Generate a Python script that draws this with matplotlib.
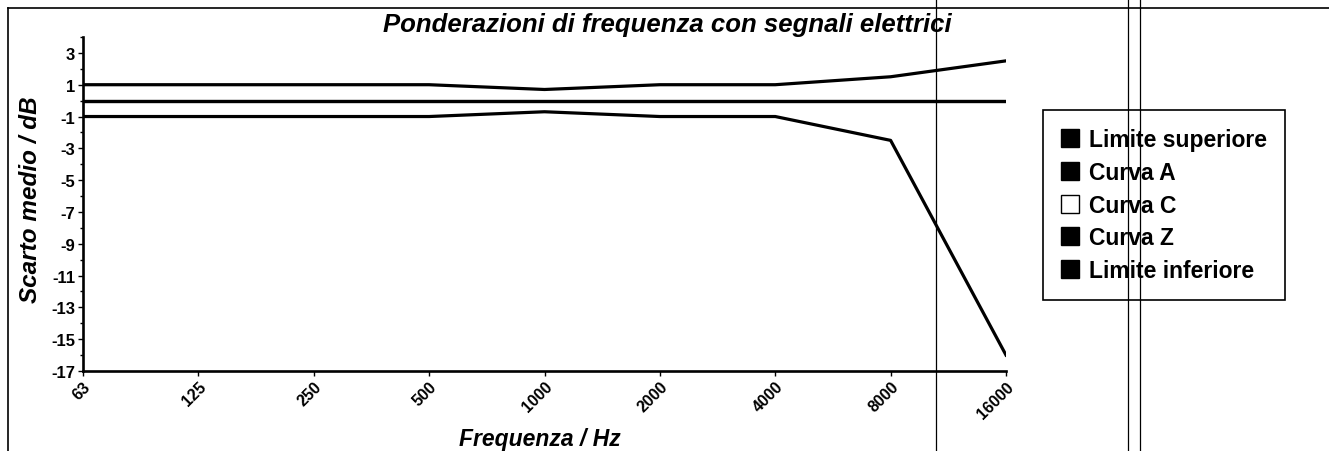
import matplotlib
matplotlib.use("Agg")
import matplotlib.pyplot as plt
from matplotlib.lines import Line2D
from matplotlib.ticker import MultipleLocator

plt.rcParams["font.family"] = ["Liberation Sans", "DejaVu Sans"]
plt.rcParams["axes.unicode_minus"] = False

# Octave-band centre frequencies (categorical x axis)
frequencies = ["63", "125", "250", "500", "1000", "2000", "4000", "8000", "16000"]

# Mean deviation in dB for each band
limite_superiore = [1.0, 1.0, 1.0, 1.0, 0.7, 1.0, 1.0, 1.5, 2.5]
curva_a = [0, 0, 0, 0, 0, 0, 0, 0, 0]
curva_c = [0, 0, 0, 0, 0, 0, 0, 0, 0]
curva_z = [0, 0, 0, 0, 0, 0, 0, 0, 0]
limite_inferiore = [-1.0, -1.0, -1.0, -1.0, -0.7, -1.0, -1.0, -2.5, -16.0]

series_names = ["Limite superiore", "Curva A", "Curva C", "Curva Z", "Limite inferiore"]
series_colors = ["black", "black", "white", "black", "black"]

W, H = 1329, 452
fig = plt.figure(figsize=(W / 100, H / 100), dpi=100)
ax = fig.add_axes([83 / W, 1 - 372 / H, (1006 - 83) / W, (372 - 38) / H])

x = list(range(len(frequencies)))
ax.plot(x, curva_c, color="white", lw=2.3, zorder=2)
ax.plot(x, curva_a, color="black", lw=2.3, zorder=3)
ax.plot(x, curva_z, color="black", lw=2.3, zorder=3)
ax.plot(x, limite_superiore, color="black", lw=2.3, zorder=3)
ax.plot(x, limite_inferiore, color="black", lw=2.3, zorder=3)

ax.set_xlim(0, len(frequencies) - 1)
ax.set_ylim(-17, 4)
ax.set_yticks(range(-17, 4, 2))
ax.yaxis.set_minor_locator(MultipleLocator(2))
ax.set_xticks(x)
ax.set_xticklabels(frequencies, rotation=45, ha="right", rotation_mode="anchor",
                   fontsize=11.5, fontweight="bold")
for lbl in ax.get_yticklabels():
    lbl.set_fontsize(12)
    lbl.set_fontweight("bold")

for side in ("top", "right"):
    ax.spines[side].set_visible(False)
for side in ("left", "bottom"):
    ax.spines[side].set_linewidth(1.9)
ax.tick_params(axis="both", which="major", direction="out", length=3.5, width=1, pad=2)
ax.tick_params(axis="y", which="minor", direction="out", length=2.5, width=1)

fig.text(667 / W, 1 - 32 / H, "Ponderazioni di frequenza con segnali elettrici",
         ha="center", va="baseline", fontsize=18.5, fontweight="bold", style="italic")
fig.text(31 / W, 1 - 200 / H, "Scarto medio / dB", rotation=90, ha="center", va="center",
         fontsize=17.5, fontweight="bold", style="italic")
fig.text(540 / W, 1 - 446 / H, "Frequenza / Hz", ha="center", va="baseline",
         fontsize=16.5, fontweight="bold", style="italic")

handles = [Line2D([], [], linestyle="none", marker="s", markersize=12.5,
                  markerfacecolor=c, markeredgecolor="black", markeredgewidth=1)
           for c in series_colors]
leg = fig.legend(handles, series_names, loc="upper left",
                 bbox_to_anchor=(1043 / W, 1 - 111 / H), borderaxespad=0,
                 prop={"size": 16.5, "weight": "bold"}, frameon=True, fancybox=False,
                 edgecolor="black", framealpha=1, borderpad=0.8, handlelength=0.75,
                 handletextpad=0.45, labelspacing=0.42)
leg.get_frame().set_linewidth(1.2)

# page frame and ruling lines of the scanned sheet
fig.add_artist(Line2D([8 / W, 1], [1 - 9 / H, 1 - 9 / H], color="black", lw=1.2, zorder=6))
fig.add_artist(Line2D([8 / W, 8 / W], [0, 1 - 9 / H], color="black", lw=1.2, zorder=6))
for xpos in (936, 1128, 1140):
    fig.add_artist(Line2D([xpos / W, xpos / W], [0, 1], color="black", lw=0.9, zorder=6))

fig.savefig("out.png", dpi=100)
